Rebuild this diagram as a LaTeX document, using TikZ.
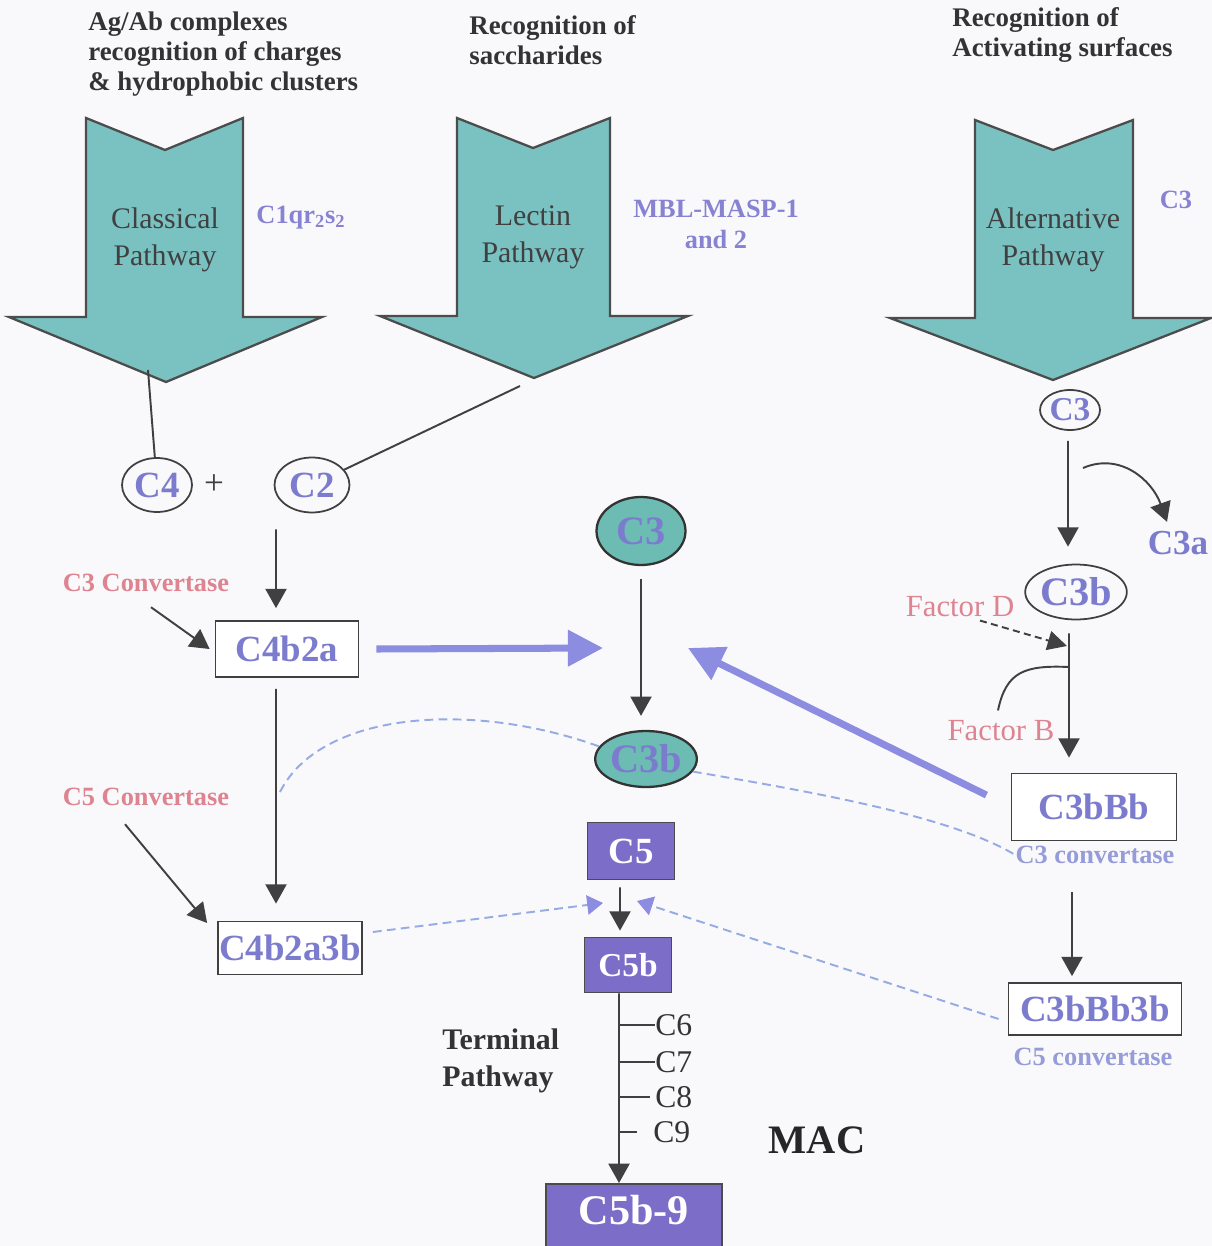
\documentclass[tikz,border=0pt]{standalone}
\usepackage{fontspec}
\setmainfont{Liberation Serif}
\usetikzlibrary{
  positioning,
  arrows.meta,
  shapes.geometric
}
\definecolor{bgCol}{RGB}{249,249,252}
\definecolor{tealFill}{RGB}{122,194,194}
\definecolor{ellTeal}{RGB}{108,188,180}
\definecolor{compPurple}{RGB}{124,124,206}
\definecolor{enzPurple}{RGB}{136,130,210}
\definecolor{lightPurple}{RGB}{150,156,216}
\definecolor{boxPurple}{RGB}{124,110,200}
\definecolor{flowPurple}{RGB}{140,140,224}
\definecolor{guideBlue}{RGB}{150,170,228}
\definecolor{pinkText}{RGB}{222,132,144}

\begin{document}
\begin{tikzpicture}[
    x=0.02cm,y=-0.02cm,
    heading/.style={inner sep=0pt,align=left,text=black!80,font=\bfseries\fontsize{15.3}{17}\selectfont},
    pathArrow/.style={draw=black!70,fill=tealFill,line width=1.3pt},
    pathText/.style={inner sep=0pt,align=center,text=black!75,font=\fontsize{17}{21}\selectfont},
    enzyme/.style={inner sep=0pt,align=center,text=enzPurple,font=\bfseries\fontsize{15}{17.6}\selectfont},
    compNode/.style={ellipse,draw=black!75,line width=1pt,inner sep=0pt,text=compPurple,font=\bfseries\fontsize{21}{21}\selectfont},
    fluidNode/.style={compNode,fill=ellTeal,draw=black!80,line width=1.3pt,font=\bfseries\fontsize{23}{23}\selectfont},
    convBox/.style={draw=black!75,line width=1pt,fill=white,inner sep=0pt,text=compPurple,font=\bfseries\fontsize{21}{21}\selectfont},
    termBox/.style={draw=black!70,line width=1pt,fill=boxPurple,inner sep=0pt,text=white,font=\bfseries\fontsize{21}{21}\selectfont},
    factor/.style={inner sep=0pt,text=pinkText,font=\fontsize{17.5}{17.5}\selectfont},
    convLabel/.style={inner sep=0pt,text=pinkText,font=\bfseries\fontsize{15}{15}\selectfont},
    convNote/.style={inner sep=0pt,text=lightPurple,font=\bfseries\fontsize{15}{15}\selectfont},
    tickLabel/.style={inner sep=0pt,anchor=west,text=black!80,font=\fontsize{18}{18}\selectfont},
    link/.style={draw=black!75,line width=1.1pt},
    flow/.style={link,-{Triangle[length=11pt,width=12pt]}},
    bigFlow/.style={draw=flowPurple,line width=4pt,-{Triangle[length=20pt,width=20pt]}},
    guide/.style={draw=guideBlue,line width=1.1pt,dash pattern=on 5pt off 3pt},
    guideFlow/.style={guide,-{Triangle[length=9pt,width=11pt,color=flowPurple]}}
  ]
    \useasboundingbox[fill=bgCol] (0,0) rectangle (1212,1246);
    \clip (0,0) rectangle (1212,1246);

    % recognition headings
    \node[heading,anchor=west] (classical head) at (88,54) {Ag/Ab complexes\\recognition of charges\\\& hydrophobic clusters};
    \node[heading,anchor=west] (lectin head) at (469,40) {Recognition of\\saccharides};
    \node[heading,anchor=west] (alt head) at (952,35) {Recognition of\\Activating surfaces};

    % pathway arrows
    \draw[pathArrow] (86,118) -- (165,150) -- (243,118) -- (243,317) -- (322,317) -- (166,382) -- (9,317) -- (86,317) -- cycle;
    \draw[pathArrow] (457,118) -- (533,148) -- (610,118) -- (610,316) -- (688,316) -- (534,378) -- (380,316) -- (457,316) -- cycle;
    \draw[pathArrow] (975,120) -- (1053,150) -- (1133,120) -- (1133,318) -- (1211,318) -- (1053,380) -- (890,318) -- (975,318) -- cycle;
    \node[pathText] (classical) at (165,240) {Classical\\Pathway};
    \node[pathText] (lectin) at (533,237) {Lectin\\Pathway};
    \node[pathText] (alternative) at (1053,240) {Alternative\\Pathway};
    \node[enzyme] (c1) at (301,218) {C1qr\textsubscript{2}s\textsubscript{2}};
    \node[enzyme] (mbl) at (716,224) {MBL-MASP-1\\and 2};
    \node[enzyme] (alt c3 label) at (1176,200) {C3};
    \coordinate (classical out) at (148,370);
    \coordinate (lectin out) at (520,386);

    % classical / lectin convertases
    \node[compNode,minimum width=1.4cm,minimum height=1.08cm] (c4) at (157,485) {C4};
    \node[right=0.22cm of c4,inner sep=0pt,text=black!75,font=\fontsize{20}{20}\selectfont] (plus) {+};
    \node[compNode,minimum width=1.5cm,minimum height=1.1cm] (c2) at (312,485) {C2};
    \draw[link] (classical out) -- (c4);
    \draw[link] (lectin out) -- (c2);

    \node[convBox,minimum width=2.86cm,minimum height=1.12cm] (c4b2a) at (287,649) {C4b2a};
    \node[convBox,minimum width=2.88cm,minimum height=1.06cm] (c4b2a3b) at (290,948) {C4b2a3b};
    \node[convLabel] (c3 conv) at (146,583) {C3 Convertase};
    \node[convLabel] (c5 conv) at (146,797) {C5 Convertase};

    \draw[flow] ([xshift=-0.72cm,yshift=-0.32cm]c2.south) -- ([xshift=-0.22cm,yshift=0.24cm]c4b2a.north);
    \draw[flow] ([xshift=0.1cm,yshift=-0.3cm]c3 conv.south) -- ([xshift=-0.1cm]c4b2a.west);
    \draw[flow] ([xshift=-0.22cm,yshift=-0.22cm]c4b2a.south) -- ([xshift=-0.28cm,yshift=0.34cm]c4b2a3b.north);
    \draw[flow] ([xshift=-0.42cm,yshift=-0.36cm]c5 conv.south) -- ([xshift=-0.2cm,yshift=0.5cm]c4b2a3b.west);

    % C3 cleavage
    \node[fluidNode,minimum width=1.78cm,minimum height=1.36cm] (c3) at (641,531) {C3};
    \node[fluidNode,minimum width=2cm,minimum height=1.12cm] (c3b) at (646,759) {C3b};
    \coordinate (c3 left in) at (603,648);
    \coordinate (c3 right in) at (688,648);
    \draw[flow] ([yshift=-0.26cm]c3.south) -- ([xshift=-0.1cm,yshift=0.28cm]c3b.north);

    % alternative pathway
    \node[compNode,minimum width=1.2cm,minimum height=0.8cm,font=\bfseries\fontsize{19}{19}\selectfont] (c3 alt) at (1070,410) {C3};
    \node[compNode,minimum width=1.48cm,minimum height=1.1cm,font=\bfseries\fontsize{23}{23}\selectfont] (c3b alt) at (1076,592) {C3b};
    \node[inner sep=0pt,text=compPurple,font=\bfseries\fontsize{20}{20}\selectfont] (c3a) at (1178,543) {C3a};
    \coordinate (c3 split) at (1083,468);
    \draw[flow] ([xshift=-0.04cm,yshift=-0.2cm]c3 alt.south) -- ([xshift=-0.16cm,yshift=0.34cm]c3b alt.north);
    \draw[flow] (c3 split) .. controls (1120,452) and (1152,480) .. ([xshift=-0.22cm,yshift=0.18cm]c3a.north);

    \node[factor] (factor d) at (960,607) {Factor D};
    \node[factor] (factor b) at (1001,731) {Factor B};
    \coordinate (d join) at (1067,646);
    \coordinate (b join) at (1069,667);
    \node[convBox,minimum width=3.3cm,minimum height=1.34cm] (c3bbb) at (1094,807) {C3bBb};
    \node[convNote] (c3bbb note) at (1095,855) {C3 convertase};
    \node[convBox,minimum width=3.46cm,minimum height=1.04cm] (c3bbb3b) at (1095,1009) {C3bBb3b};
    \node[convNote] (c3bbb3b note) at (1093,1057) {C5 convertase};

    \draw[link,dash pattern=on 4pt off 2.5pt,-{Triangle[length=11pt,width=11pt]}] ([xshift=0.4cm,yshift=-0.06cm]factor d.south) -- (d join);
    \draw[flow] ([xshift=-0.14cm,yshift=-0.26cm]c3b alt.south) -- ([xshift=-0.5cm,yshift=0.3cm]c3bbb.north);
    \draw[link] ([xshift=-0.06cm,yshift=0.2cm]factor b.north) .. controls (1006,672) and (1024,665) .. (b join);
    \draw[flow] ([xshift=-0.46cm,yshift=-0.56cm]c3bbb note.south) -- ([xshift=-0.46cm,yshift=0.12cm]c3bbb3b.north);

    % convertases acting on C3
    \draw[bigFlow] ([xshift=0.34cm]c4b2a.east) -- (c3 left in);
    \draw[bigFlow,shorten <=0.54cm] (c3bbb.west) -- (c3 right in);
    \coordinate (guide start) at (280,792);
    \draw[guide] (guide start) .. controls (320,712) and (470,700) .. (c3b.165);
    \draw[guide] (c3b.-15) .. controls (800,790) and (950,815) .. (c3bbb note.west);

    % terminal pathway
    \node[termBox,minimum width=1.74cm,minimum height=1.14cm] (c5) at (631,851) {C5};
    \node[termBox,minimum width=1.74cm,minimum height=1.1cm,font=\bfseries\fontsize{19}{19}\selectfont] (c5b) at (628,965) {C5b};
    \node[termBox,anchor=north,minimum width=3.52cm,text height=0.82cm,text depth=1cm,font=\bfseries\fontsize{24}{24}\selectfont] (c5b9) at (634,1183) {C5b-9};
    \coordinate (c5 left in) at (603,903);
    \coordinate (c5 right in) at (637,901);
    \draw[guideFlow] ([xshift=0.2cm,yshift=0.32cm]c4b2a3b.east) -- (c5 left in);
    \draw[guideFlow] ([xshift=-0.18cm,yshift=-0.2cm]c3bbb3b.west) -- (c5 right in);
    \draw[flow] ([xshift=-0.22cm,yshift=-0.14cm]c5.south) -- ([xshift=-0.16cm,yshift=0.12cm]c5b.north);
    \draw[flow] ([xshift=-0.18cm]c5b.south) -- ([xshift=-0.3cm]c5b9.north);

    \coordinate (spine) at (619,1000);
    \node[tickLabel] (c6) at (655,1025) {C6};
    \node[tickLabel] (c7) at (655,1062) {C7};
    \node[tickLabel] (c8) at (655,1097) {C8};
    \node[tickLabel] (c9) at (653,1132) {C9};
    \draw[link] (spine |- c6.west) -- (c6.west);
    \draw[link] (spine |- c7.west) -- (c7.west);
    \draw[link,shorten >=3pt] (spine |- c8.west) -- (c8.west);
    \draw[link,shorten >=9pt] (spine |- c9.west) -- (c9.west);
    \node[heading,anchor=west,font=\bfseries\fontsize{17}{21}\selectfont] (terminal) at (442,1061) {Terminal\\Pathway};
    \node[inner sep=0pt,text=black!85,font=\bfseries\fontsize{23}{23}\selectfont] (mac) at (817,1140) {MAC};
\end{tikzpicture}
\end{document}
